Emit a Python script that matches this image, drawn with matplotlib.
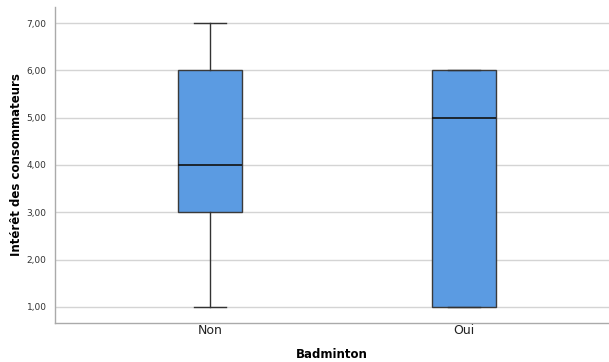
import matplotlib.pyplot as plt
from matplotlib.ticker import FuncFormatter

# statistiques
categories = ['Non', 'Oui']
whisker_low = [1, 1]
q1 = [3, 1]
median = [4, 5]
q3 = [6, 6]
whisker_high = [7, 6]
yticks = [1, 2, 3, 4, 5, 6, 7]

stats = []
for i, cat in enumerate(categories):
    stats.append({'label': cat, 'whislo': whisker_low[i], 'q1': q1[i],
                  'med': median[i], 'q3': q3[i], 'whishi': whisker_high[i],
                  'fliers': []})

fig = plt.figure(figsize=(6.09, 3.62), dpi=100)
ax = fig.add_axes([55 / 609, 39 / 362, 554 / 609, 316 / 362])

edge = '#333333'
ax.bxp(stats, positions=[1, 2], widths=0.25, patch_artist=True,
       showfliers=False,
       boxprops=dict(facecolor='#5b9be2', edgecolor='#3a3a3a', linewidth=1),
       medianprops=dict(color='#111111', linewidth=1.2),
       whiskerprops=dict(color=edge, linewidth=1),
       capprops=dict(color=edge, linewidth=1),
       capwidths=0.125, zorder=3)

ax.set_xlim(0.39, 2.57)
ax.set_ylim(0.66, 7.34)
ax.set_yticks(yticks)
ax.yaxis.set_major_formatter(FuncFormatter(lambda v, p: f'{v:.2f}'.replace('.', ',')))
ax.grid(axis='y', color='#d4d4d4', linewidth=1, zorder=0)
ax.set_axisbelow(True)
ax.tick_params(axis='y', length=0, labelsize=6.5, colors='#333333', pad=6)
ax.tick_params(axis='x', length=0, labelsize=9, colors='#222222', pad=1)

for s in ['top', 'right']:
    ax.spines[s].set_visible(False)
for s in ['left', 'bottom']:
    ax.spines[s].set_color('#aaaaaa')
    ax.spines[s].set_linewidth(1)

ax.set_xlabel('Badminton', fontsize=8.5, fontweight='bold')
ax.set_ylabel('Intérêt des consommateurs', fontsize=8.5, fontweight='bold')
ax.xaxis.set_label_coords(0.5, -0.101)
ax.yaxis.set_label_coords(-0.0686, 0.5)
ax.xaxis.label.set_va('center')
ax.yaxis.label.set_va('center')

fig.savefig('out.png', dpi=100)
